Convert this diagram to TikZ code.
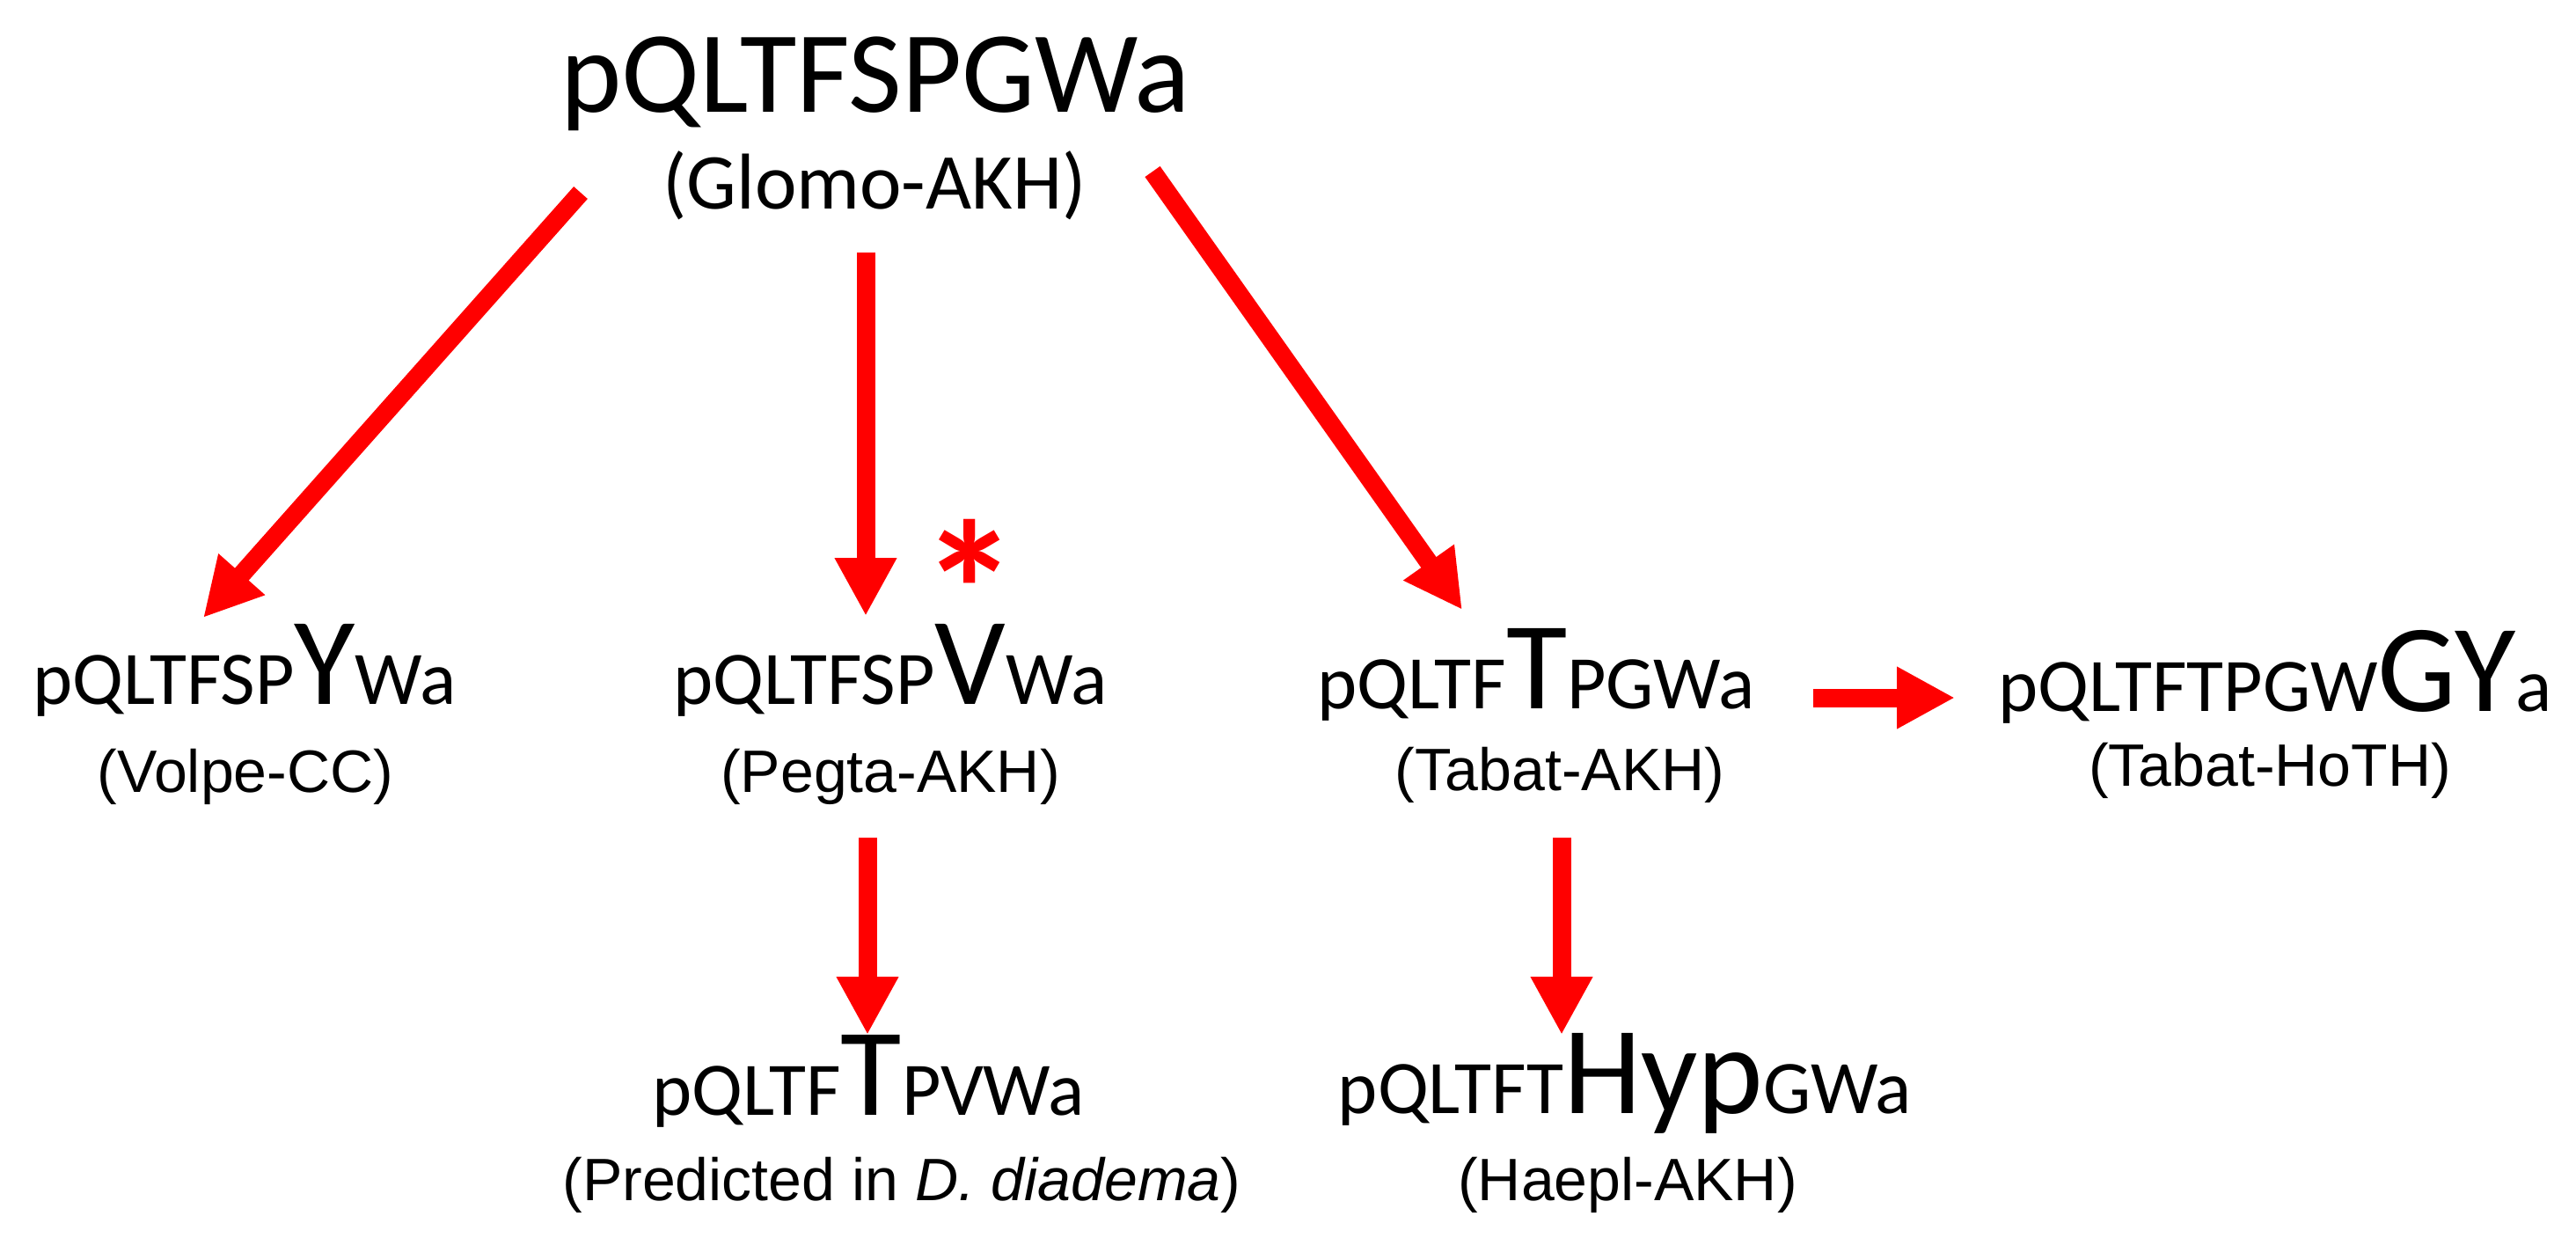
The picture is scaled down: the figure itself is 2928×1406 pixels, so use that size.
\documentclass[tikz,border=0pt]{standalone}
\usepackage{fontspec}
\setmainfont{Carlito}
\newfontfamily\arialf{Liberation Sans}
\usetikzlibrary{arrows.meta}
\tikzset{
 redarrow/.style={draw=red, line width=21pt, -{Triangle[length=66pt,width=66pt]}},
 seqtext/.style={anchor=base, inner sep=0pt, font=\fontsize{86}{86}\selectfont},
 labtext/.style={anchor=base, inner sep=0pt, font=\arialf\fontsize{68}{68}\selectfont},
}
\newcommand\bigres[1]{{\fontsize{142}{142}\selectfont #1}}
\begin{document}
\begin{tikzpicture}[x=1pt,y=-1pt]
\useasboundingbox (0,0) rectangle (2928,1406);
\node[anchor=base, inner sep=0pt, font=\fontsize{132}{132}\selectfont] (title) at (995,127) {pQLTFSPGWa};
\node[anchor=base, inner sep=0pt, font=\fontsize{90}{90}\selectfont] (glomo) at (994,237) {(Glomo-AKH)};
\node[seqtext] (volpe) at (278,800) {pQLTFSP\bigres{Y}Wa};
\node[labtext] (volpel) at (279,900) {(Volpe-CC)};
\node[seqtext] (pegta) at (1012,800) {pQLTFSP\bigres{V}Wa};
\node[labtext] (pegtal) at (1012,900) {(Pegta-AKH)};
\node[seqtext] (tabat) at (1746,805) {pQLTF\bigres{T}PGWa};
\node[labtext] (tabatl) at (1773,898) {(Tabat-AKH)};
\node[seqtext] (hoth) at (2586,808) {pQLTFTPGW\bigres{GY}a};
\node[labtext] (hothl) at (2580,893) {(Tabat-HoTH)};
\node[seqtext] (pred) at (987,1267) {pQLTF\bigres{T}PVWa};
\node[labtext] (predl) at (1025,1364) {(Predicted in \textit{D. diadema})};
\node[seqtext] (haepl) at (1847,1265) {pQLTFT\bigres{Hyp}GWa};
\node[labtext] (haepll) at (1850,1364) {(Haepl-AKH)};
\node[anchor=base, inner sep=0pt, text=red, font=\bfseries\fontsize{224}{224}\selectfont] (star) at (1102,658) {\raisebox{-92pt}[63pt][0pt]{*}};
\coordinate (a1s) at (660,219); \coordinate (a1e) at (231,702);
\coordinate (a2s) at (984,287); \coordinate (a2e) at (984,700);
\coordinate (a3s) at (1310,195); \coordinate (a3e) at (1662,693);
\coordinate (a4s) at (2061,793); \coordinate (a4e) at (2222,793);
\coordinate (a5s) at (986,952); \coordinate (a5e) at (986,1176);
\coordinate (a6s) at (1775,952); \coordinate (a6e) at (1775,1176);
\draw[redarrow] (a1s) -- (a1e);
\draw[redarrow] (a2s) -- (a2e);
\draw[redarrow] (a3s) -- (a3e);
\draw[redarrow] (a4s) -- (a4e);
\draw[redarrow] (a5s) -- (a5e);
\draw[redarrow] (a6s) -- (a6e);
\end{tikzpicture}
\end{document}
